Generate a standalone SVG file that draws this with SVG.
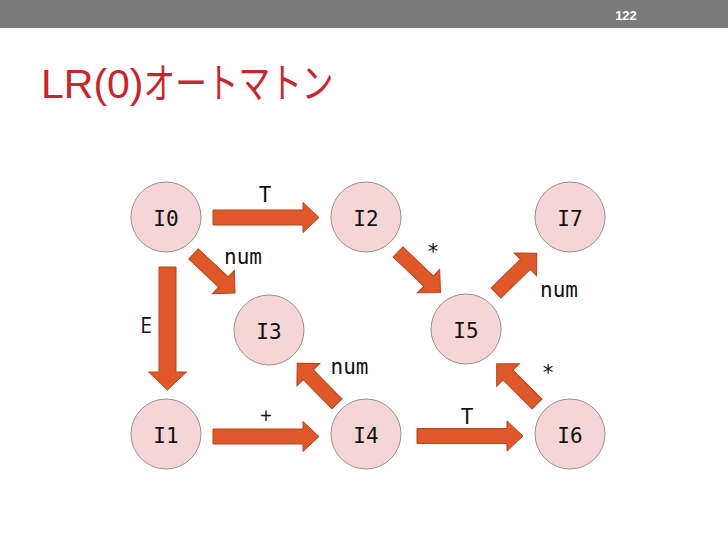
<svg xmlns="http://www.w3.org/2000/svg" width="728" height="546" viewBox="0 0 728 546">
<style>
.node{fill:#f5d5d5;stroke:#9a9090;stroke-width:1}
.nl{font-family:"DejaVu Sans Mono","Liberation Mono",monospace;font-size:21px;fill:#111;text-anchor:middle}
.lab{font-family:"DejaVu Sans Mono","Liberation Mono",monospace;font-size:21px;fill:#111;text-anchor:middle}
.sl{font-family:"Open Sans","Liberation Sans",sans-serif;font-size:21px;fill:#111;text-anchor:middle}
.arr{fill:#e0582a;stroke:#b4451c;stroke-width:1}
</style>
<defs>
<polygon id="ah" points="0,-7.5 90,-7.5 90,-15 106,0 90,15 90,7.5 0,7.5"/>
<polygon id="ad" points="0,-7 41,-7 41,-16 57,0 41,16 41,7 0,7"/>
</defs>
<rect x="0" y="0" width="728" height="28" fill="#7a7a7a"/>
<text x="626" y="20" font-family="'Liberation Sans',Arial,sans-serif" font-size="13" font-weight="bold" fill="#fff" text-anchor="middle">122</text>
<text x="41" y="98" font-family="'Liberation Sans','Noto Sans CJK JP',sans-serif" font-size="41" fill="#c8262c">LR(0)<tspan textLength="190" lengthAdjust="spacingAndGlyphs">オートマトン</tspan></text>

<g id="connectors">
<use href="#ah" class="arr" transform="translate(213,217.5)"/>
<use href="#ah" class="arr" transform="translate(213,436.5)"/>
<use href="#ah" class="arr" transform="translate(417,436)"/>
<polygon class="arr" points="0,-8.5 105,-8.5 105,-19 123,0 105,19 105,8.5 0,8.5" transform="translate(167.5,267) rotate(90)"/>
<use href="#ad" class="arr" transform="translate(193.5,254) rotate(43.2)"/>
<use href="#ad" class="arr" transform="translate(398,252) rotate(43.6) scale(1.03,1)"/>
<use href="#ad" class="arr" transform="translate(496,293) rotate(-44.3)"/>
<use href="#ad" class="arr" transform="translate(337,404) rotate(-134.3)"/>
<use href="#ad" class="arr" transform="translate(537,404) rotate(-135)"/>
<text class="lab" x="265" y="202">T</text>
<text class="lab" x="243" y="264">num</text>
<text class="lab" x="433" y="259">*</text>
<text class="lab" x="559" y="297">num</text>
<text class="sl" x="146" y="333">E</text>
<text class="lab" x="349.5" y="374">num</text>
<text class="lab" x="548" y="380">*</text>
<text class="sl" x="266" y="423">+</text>
<text class="lab" x="467" y="424">T</text>
</g>

<g id="I0"><circle class="node" cx="166" cy="217" r="35"/><text class="nl" x="166" y="226">I0</text></g>
<g id="I2"><circle class="node" cx="366" cy="217" r="35"/><text class="nl" x="366" y="226">I2</text></g>
<g id="I7"><circle class="node" cx="570" cy="217" r="35"/><text class="nl" x="570" y="226">I7</text></g>
<g id="I3"><circle class="node" cx="269" cy="330" r="35"/><text class="nl" x="269" y="339">I3</text></g>
<g id="I5"><circle class="node" cx="466" cy="329" r="35"/><text class="nl" x="466" y="338">I5</text></g>
<g id="I1"><circle class="node" cx="166" cy="434" r="35"/><text class="nl" x="166" y="443">I1</text></g>
<g id="I4"><circle class="node" cx="366" cy="434" r="35"/><text class="nl" x="366" y="443">I4</text></g>
<g id="I6"><circle class="node" cx="570" cy="434" r="35"/><text class="nl" x="570" y="443">I6</text></g>
</svg>
